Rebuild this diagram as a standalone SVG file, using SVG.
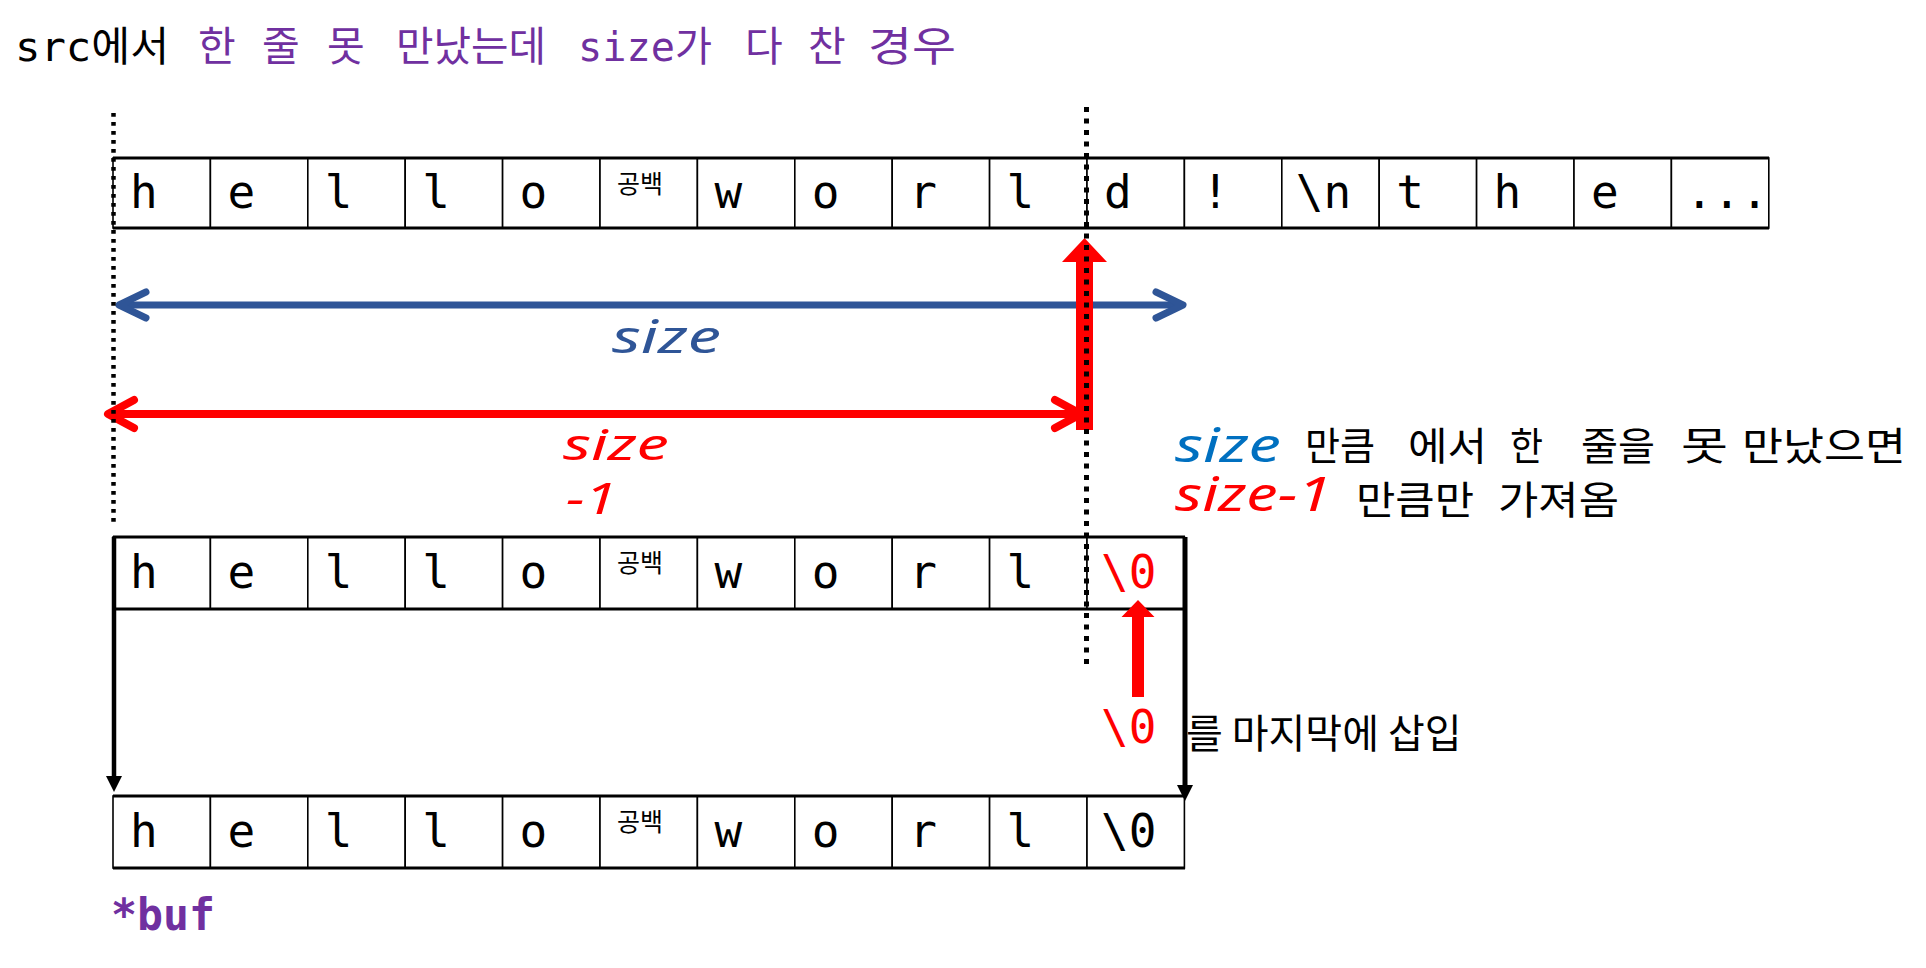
<svg xmlns="http://www.w3.org/2000/svg" width="1926" height="968" viewBox="0 0 1926 968">
<style>
.mono{font-family:"DejaVu Sans Mono","Noto Sans CJK KR",monospace;}
.kr{font-family:"Noto Sans CJK KR",sans-serif;}
.it{font-family:"Noto Sans","Liberation Sans",sans-serif;font-style:italic;}
.cell{fill:#fff;stroke:#000;stroke-width:1.6;}
.edge{stroke:#000;stroke-width:3;}
.ch{font-size:46px;fill:#000;}
.sp{font-size:25px;fill:#000;}
.purple{fill:#7030A0;}
.red{fill:#FF0000;}
.dotL{stroke:#000;stroke-width:4.5;stroke-dasharray:3.8 5.2;fill:none;}
.dotR{stroke:#000;stroke-width:5;stroke-dasharray:5 6.5;fill:none;}
</style>
<defs>
<marker id="chevB" viewBox="-34 -20 40 40" refX="0" refY="0" markerWidth="40" markerHeight="40" markerUnits="userSpaceOnUse" orient="auto-start-reverse">
<path d="M -27 -13 L 0 0 L -27 13" fill="none" stroke="#2F5597" stroke-width="7" stroke-linecap="round" stroke-linejoin="round"/>
</marker>
<marker id="chevR" viewBox="-34 -20 40 40" refX="0" refY="0" markerWidth="40" markerHeight="40" markerUnits="userSpaceOnUse" orient="auto-start-reverse">
<path d="M -26 -14 L 0 0 L -26 14" fill="none" stroke="#FF0000" stroke-width="8" stroke-linecap="round" stroke-linejoin="round"/>
</marker>
</defs>
<rect width="1926" height="968" fill="#fff"/>

<g id="title">
<text class="mono" x="15" y="61" font-size="41" textLength="154" lengthAdjust="spacingAndGlyphs" fill="#000">src에서</text>
<g class="mono purple" font-size="41">
<text x="198" y="61">한</text>
<text x="262" y="61">줄</text>
<text x="327" y="61">못</text>
<text x="396" y="61" textLength="150" lengthAdjust="spacingAndGlyphs">만났는데</text>
<text x="578" y="61" textLength="134" lengthAdjust="spacingAndGlyphs">size가</text>
<text x="745" y="61">다</text>
<text x="808" y="61">찬</text>
<text x="868" y="61" textLength="88" lengthAdjust="spacingAndGlyphs">경우</text>
</g>
</g>

<g id="row-src">
<rect class="cell" x="113" y="158" width="97.4" height="70"/>
<rect class="cell" x="210.4" y="158" width="97.4" height="70"/>
<rect class="cell" x="307.8" y="158" width="97.4" height="70"/>
<rect class="cell" x="405.2" y="158" width="97.4" height="70"/>
<rect class="cell" x="502.6" y="158" width="97.4" height="70"/>
<rect class="cell" x="600" y="158" width="97.4" height="70"/>
<rect class="cell" x="697.4" y="158" width="97.4" height="70"/>
<rect class="cell" x="794.8" y="158" width="97.4" height="70"/>
<rect class="cell" x="892.2" y="158" width="97.4" height="70"/>
<rect class="cell" x="989.6" y="158" width="97.4" height="70"/>
<rect class="cell" x="1087" y="158" width="97.4" height="70"/>
<rect class="cell" x="1184.4" y="158" width="97.4" height="70"/>
<rect class="cell" x="1281.8" y="158" width="97.4" height="70"/>
<rect class="cell" x="1379.2" y="158" width="97.4" height="70"/>
<rect class="cell" x="1476.6" y="158" width="97.4" height="70"/>
<rect class="cell" x="1574" y="158" width="97.4" height="70"/>
<rect class="cell" x="1671.4" y="158" width="97.4" height="70"/>
<line class="edge" x1="113" y1="158" x2="1769" y2="158"/>
<line class="edge" x1="113" y1="228" x2="1769" y2="228"/>
<g class="mono ch">
<text x="130" y="208">h</text>
<text x="227.4" y="208">e</text>
<text x="324.8" y="208">l</text>
<text x="422.2" y="208">l</text>
<text x="519.6" y="208">o</text>
<text x="714.4" y="208">w</text>
<text x="811.8" y="208">o</text>
<text x="909.2" y="208">r</text>
<text x="1006.6" y="208">l</text>
<text x="1104" y="208">d</text>
<text x="1201.4" y="208">!</text>
<text x="1295.8" y="208">\n</text>
<text x="1396.2" y="208">t</text>
<text x="1493.6" y="208">h</text>
<text x="1591" y="208">e</text>
<text x="1685.4" y="208">...</text>
</g>
<text class="kr sp" x="617" y="193">공백</text>
</g>

<g id="row-mid">
<rect class="cell" x="113" y="537" width="97.4" height="72"/>
<rect class="cell" x="210.4" y="537" width="97.4" height="72"/>
<rect class="cell" x="307.8" y="537" width="97.4" height="72"/>
<rect class="cell" x="405.2" y="537" width="97.4" height="72"/>
<rect class="cell" x="502.6" y="537" width="97.4" height="72"/>
<rect class="cell" x="600" y="537" width="97.4" height="72"/>
<rect class="cell" x="697.4" y="537" width="97.4" height="72"/>
<rect class="cell" x="794.8" y="537" width="97.4" height="72"/>
<rect class="cell" x="892.2" y="537" width="97.4" height="72"/>
<rect class="cell" x="989.6" y="537" width="97.4" height="72"/>
<rect class="cell" x="1087" y="537" width="97.4" height="72"/>
<line class="edge" x1="113" y1="537" x2="1185" y2="537"/>
<line class="edge" x1="113" y1="609" x2="1185" y2="609"/>
<g class="mono ch">
<text x="130" y="588">h</text>
<text x="227.4" y="588">e</text>
<text x="324.8" y="588">l</text>
<text x="422.2" y="588">l</text>
<text x="519.6" y="588">o</text>
<text x="714.4" y="588">w</text>
<text x="811.8" y="588">o</text>
<text x="909.2" y="588">r</text>
<text x="1006.6" y="588">l</text>
<text x="1101" y="588" fill="#FF0000">\0</text>
</g>
<text class="kr sp" x="617" y="572">공백</text>
</g>

<g id="row-buf">
<rect class="cell" x="113" y="796" width="97.4" height="72"/>
<rect class="cell" x="210.4" y="796" width="97.4" height="72"/>
<rect class="cell" x="307.8" y="796" width="97.4" height="72"/>
<rect class="cell" x="405.2" y="796" width="97.4" height="72"/>
<rect class="cell" x="502.6" y="796" width="97.4" height="72"/>
<rect class="cell" x="600" y="796" width="97.4" height="72"/>
<rect class="cell" x="697.4" y="796" width="97.4" height="72"/>
<rect class="cell" x="794.8" y="796" width="97.4" height="72"/>
<rect class="cell" x="892.2" y="796" width="97.4" height="72"/>
<rect class="cell" x="989.6" y="796" width="97.4" height="72"/>
<rect class="cell" x="1087" y="796" width="97.4" height="72"/>
<line class="edge" x1="113" y1="796" x2="1185" y2="796"/>
<line class="edge" x1="113" y1="868" x2="1185" y2="868"/>
<g class="mono ch">
<text x="130" y="847">h</text>
<text x="227.4" y="847">e</text>
<text x="324.8" y="847">l</text>
<text x="422.2" y="847">l</text>
<text x="519.6" y="847">o</text>
<text x="714.4" y="847">w</text>
<text x="811.8" y="847">o</text>
<text x="909.2" y="847">r</text>
<text x="1006.6" y="847">l</text>
<text x="1101" y="847">\0</text>
</g>
<text class="kr sp" x="617" y="831">공백</text>
</g>

<g id="label-buf">
<text class="mono purple" x="111" y="930" font-size="44" font-weight="bold" textLength="104" lengthAdjust="spacingAndGlyphs">*buf</text>
</g>

<g id="label-size-blue">
<text class="it" x="612" y="353" font-size="46" textLength="109" lengthAdjust="spacingAndGlyphs" fill="#2F5597">size</text>
</g>
<g id="label-size-red">
<text class="it red" x="563" y="460" font-size="44" textLength="106" lengthAdjust="spacingAndGlyphs">size</text>
<text class="it red" x="566" y="514" font-size="44" textLength="51" lengthAdjust="spacingAndGlyphs">-1</text>
</g>

<g id="note">
<text class="it" x="1175" y="462" font-size="48" textLength="106" lengthAdjust="spacingAndGlyphs" fill="#0070C0">size</text>
<g class="kr" font-size="39" fill="#000">
<text x="1305" y="460" textLength="70" lengthAdjust="spacingAndGlyphs">만큼</text>
<text x="1408" y="460" textLength="79" lengthAdjust="spacingAndGlyphs">에서</text>
<text x="1510" y="460" textLength="33" lengthAdjust="spacingAndGlyphs">한</text>
<text x="1581" y="460" textLength="74" lengthAdjust="spacingAndGlyphs">줄을</text>
<text x="1681" y="460" textLength="47" lengthAdjust="spacingAndGlyphs">못</text>
<text x="1742" y="460" textLength="164" lengthAdjust="spacingAndGlyphs">만났으면</text>
</g>
<text class="it red" x="1175" y="511" font-size="48" textLength="157" lengthAdjust="spacingAndGlyphs">size-1</text>
<g class="kr" font-size="39" fill="#000">
<text x="1356" y="514" textLength="118" lengthAdjust="spacingAndGlyphs">만큼만</text>
<text x="1498" y="514" textLength="121" lengthAdjust="spacingAndGlyphs">가져옴</text>
</g>
</g>

<g id="note-null">
<text class="mono ch red" x="1101" y="743">\0</text>
<text class="kr" x="1186" y="748" font-size="40" fill="#000">를 마지막에 삽입</text>
</g>

<g id="connectors">
<line x1="119" y1="305" x2="1183" y2="305" stroke="#2F5597" stroke-width="7" marker-start="url(#chevB)" marker-end="url(#chevB)"/>
<line x1="108" y1="414" x2="1081" y2="414" stroke="#FF0000" stroke-width="8" marker-start="url(#chevR)" marker-end="url(#chevR)"/>
<path d="M1076 430 L1076 262 L1062 262 L1084.5 238 L1107 262 L1093 262 L1093 430 Z" fill="#FF0000"/>
<path d="M1132 697 L1132 617 L1121.5 617 L1138 600 L1154.5 617 L1144 617 L1144 697 Z" fill="#FF0000"/>
<line class="dotL" x1="113.5" y1="113" x2="113.5" y2="527"/>
<line class="dotR" x1="1086.5" y1="107" x2="1086.5" y2="664"/>
<line x1="114" y1="537" x2="114" y2="778" stroke="#000" stroke-width="4.5"/>
<path d="M106 776 L114 792 L122 776 Z" fill="#000"/>
<line x1="1185" y1="537" x2="1185" y2="787" stroke="#000" stroke-width="5"/>
<path d="M1177 785 L1185 801 L1193 785 Z" fill="#000"/>
</g>
</svg>
